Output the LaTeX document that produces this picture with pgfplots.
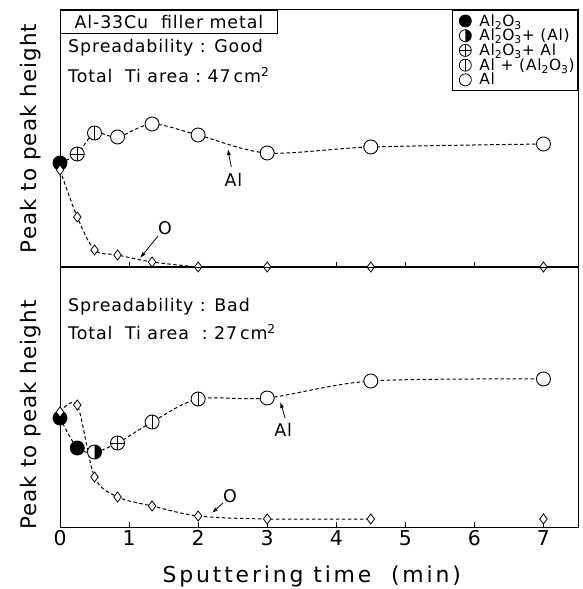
\documentclass[border=0pt]{standalone}
\usepackage{pgfplots}
\pgfplotsset{compat=1.18}
\usepackage{fontspec}
\setmainfont{DejaVu Sans}[LetterSpace=5]
\newfontfamily\xlfont{DejaVu Sans}[LetterSpace=13]
\usetikzlibrary{arrows.meta}

\pgfdeclareplotmark{vcirc}{%
  \pgfpathcircle{\pgfpointorigin}{\pgfplotmarksize}%
  \pgfsetfillcolor{white}%
  \pgfusepathqfillstroke
  \pgfpathmoveto{\pgfqpoint{0pt}{\pgfplotmarksize}}%
  \pgfpathlineto{\pgfqpoint{0pt}{-\pgfplotmarksize}}%
  \pgfusepathqstroke}
\pgfdeclareplotmark{halfcirc}{%
  \pgfpathcircle{\pgfpointorigin}{\pgfplotmarksize}%
  \pgfsetfillcolor{white}%
  \pgfusepathqfillstroke
  \pgfpathmoveto{\pgfqpoint{0pt}{\pgfplotmarksize}}%
  \pgfpatharc{90}{-90}{\pgfplotmarksize}%
  \pgfpathclose
  \pgfsetfillcolor{black}%
  \pgfusepathqfill}
\pgfdeclareplotmark{fcirc}{%
  \pgfpathcircle{\pgfpointorigin}{\pgfplotmarksize}%
  \pgfsetfillcolor{black}%
  \pgfusepathqfillstroke}
\pgfdeclareplotmark{ocirc}{%
  \pgfpathcircle{\pgfpointorigin}{\pgfplotmarksize}%
  \pgfsetfillcolor{white}%
  \pgfusepathqfillstroke}
\pgfdeclareplotmark{pcirc}{%
  \pgfpathcircle{\pgfpointorigin}{\pgfplotmarksize}%
  \pgfsetfillcolor{white}%
  \pgfusepathqfillstroke
  \pgfpathmoveto{\pgfqpoint{0pt}{\pgfplotmarksize}}%
  \pgfpathlineto{\pgfqpoint{0pt}{-\pgfplotmarksize}}%
  \pgfpathmoveto{\pgfqpoint{\pgfplotmarksize}{0pt}}%
  \pgfpathlineto{\pgfqpoint{-\pgfplotmarksize}{0pt}}%
  \pgfusepathqstroke}

\newcommand\ptext{\fontsize{17.5}{20}\selectfont}

\tikzset{arr/.style={-{Latex[length=6bp,width=4bp]}, line width=0.8pt}}
\pgfplotsset{
  panel/.style={scale only axis, width=518bp, xmin=0, xmax=7.5,
    xtick={0,1,2,3,4,5,6,7}, ytick=\empty, xtick pos=bottom, tick align=inside,
    major tick length=5bp, every tick/.style={black, line width=0.8pt},
    axis line style={line width=1pt}, clip=false,
    /pgf/number format/assume math mode=true,
    xticklabel style={font=\fontsize{20.5}{20}\selectfont},
    ylabel={Peak to peak height},
    anchor=south west},
  dline/.style={black, line width=1pt, dash pattern=on 3.5bp off 2.5bp, smooth, tension=0.5, forget plot},
  mk/.style={black, only marks, forget plot, mark size=7bp, mark options={line width=0.9pt, solid}},
  dia/.style={black, only marks, forget plot, mark=diamond*, mark size=5bp, mark options={fill=white, line width=0.8pt, solid}},
  lgm/.style={black, mark size=6bp,
    legend image code/.code={\path[draw=none] (0bp,0bp) -- (24bp,0bp);
      \draw[only marks, mark options={line width=0.8pt}, ##1] plot coordinates {(12bp,0bp)};}},
}

\begin{document}
\begin{tikzpicture}
% ---------------- top panel ----------------
\begin{axis}[panel, at={(60bp,322bp)}, height=257bp, ymin=0, ymax=257,
  xticklabels={},
  ylabel style={at={(rel axis cs:-0.056,0.5)}, anchor=center, font=\fontsize{21.5}{22}\selectfont},
  legend style={at={(rel axis cs:1,1)}, anchor=north east, draw=black, line width=0.8pt,
    font=\fontsize{15.5}{16}\selectfont, row sep=-2.5bp, inner xsep=1bp, inner ysep=2bp},
  legend cell align=left]
\addlegendimage{lgm, mark=fcirc}
\addlegendentry{Al\textsubscript{2}O\textsubscript{3}}
\addlegendimage{lgm, mark=halfcirc}
\addlegendentry{Al\textsubscript{2}O\textsubscript{3}+ (Al)}
\addlegendimage{lgm, mark=pcirc}
\addlegendentry{Al\textsubscript{2}O\textsubscript{3}+ Al}
\addlegendimage{lgm, mark=vcirc}
\addlegendentry{Al + (Al\textsubscript{2}O\textsubscript{3})}
\addlegendimage{lgm, mark=ocirc}
\addlegendentry{Al}
% lines
\addplot[dline] coordinates {(0,97)(0.25,50)(0.5,17)(0.833,12)(1.333,5)(2,0)};
\addplot[dline] coordinates {(0,104)(0.25,113)(0.5,134)(0.833,130)(1.333,143)(2,132)(3,114)(4.5,120)(7,123)};
% marks
\addplot[mk, mark=fcirc] coordinates {(0,104)};
\addplot[mk, mark=pcirc] coordinates {(0.25,113)};
\addplot[mk, mark=vcirc] coordinates {(0.5,134)};
\addplot[mk, mark=ocirc] coordinates {(0.833,130)(1.333,143)(2,132)(3,114)(4.5,120)(7,123)};
\addplot[dia] coordinates {(0,97)(0.25,50)(0.5,17)(0.833,12)(1.333,5)(2,0)(3,0)(4.5,0)(7,0)};
% texts
\node[draw, line width=0.8pt, anchor=north west, minimum width=217bp, minimum height=23bp,
  inner xsep=0pt, inner ysep=0pt, font=\fontsize{17.5}{19}\selectfont] at (rel axis cs:0,1) {Al-33Cu\ \ filler metal};
\node[anchor=west, inner sep=0pt, font=\ptext] at (axis cs:0.116,219) {Spreadability : Good};
\node[anchor=west, inner sep=0pt, font=\ptext] at (axis cs:0.116,192) {Total\ \ Ti area\ :\ 47\,cm\textsuperscript{2}};
\node[font=\ptext] at (axis cs:2.51,87) {Al};
\draw[arr] (axis cs:2.48,100) -- (axis cs:2.43,118);
\node[font=\ptext] at (axis cs:1.52,39) {O};
\draw[arr] (axis cs:1.42,31) -- (axis cs:1.16,9);
\end{axis}
% ---------------- bottom panel ----------------
\begin{axis}[panel, at={(60bp,62bp)}, height=260bp, ymin=0, ymax=260,
  ylabel style={at={(rel axis cs:-0.056,0.43)}, anchor=center, font=\fontsize{21.5}{22}\selectfont},
  xlabel={\xlfont Sputtering time\ \ (min)},
  xlabel style={at={(rel axis cs:0.486,-0.192)}, anchor=center, font=\fontsize{22}{24}\selectfont}]
\addplot[dline] coordinates {(0,115)(0.25,122)(0.5,50)(0.833,30)(1.333,21)(2,11)(3,8)(4.5,8)};
\addplot[dline] coordinates {(0,109)(0.25,79)(0.5,75)(0.833,84)(1.333,105)(2,128)(3,129)(4.5,146)(7,148)};
\addplot[mk, mark=fcirc] coordinates {(0,109)(0.25,79)};
\addplot[mk, mark=halfcirc] coordinates {(0.5,75)};
\addplot[mk, mark=pcirc] coordinates {(0.833,84)};
\addplot[mk, mark=vcirc] coordinates {(1.333,105)(2,128)};
\addplot[mk, mark=ocirc] coordinates {(3,129)(4.5,146)(7,148)};
\addplot[dia] coordinates {(0,115)(0.25,122)(0.5,50)(0.833,30)(1.333,21)(2,11)(3,8)(4.5,8)(7,8)};
\node[anchor=west, inner sep=0pt, font=\ptext] at (axis cs:0.116,220) {Spreadability : Bad};
\node[anchor=west, inner sep=0pt, font=\ptext] at (axis cs:0.116,195) {Total\ \ Ti area\ \ :\ 27\,cm\textsuperscript{2}};
\node[font=\ptext] at (axis cs:3.23,97) {Al};
\draw[arr] (axis cs:3.26,109) -- (axis cs:3.19,125);
\node[font=\ptext] at (axis cs:2.46,31) {O};
\draw[arr] (axis cs:2.36,24) -- (axis cs:2.2,14);
\end{axis}
\pgfresetboundingbox
\useasboundingbox (0,0) rectangle (583bp,589bp);
\end{tikzpicture}
\end{document}
